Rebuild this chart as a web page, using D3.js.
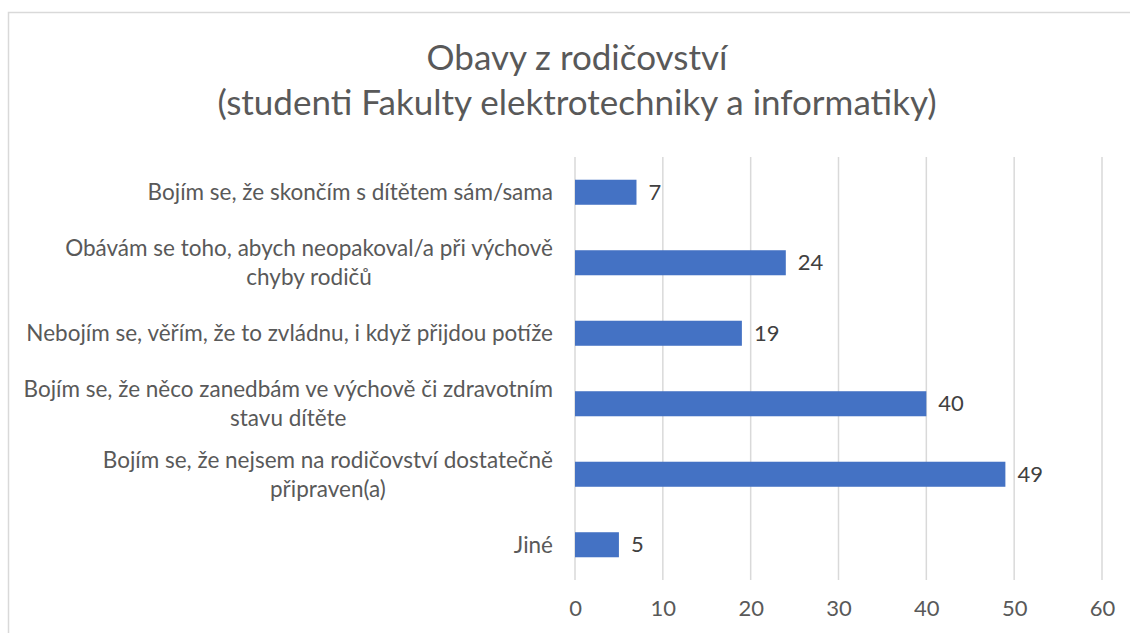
<!DOCTYPE html>
<html>

<head>
  <title>Obavy z rodičovství</title>
  <script src="https://cdn.jsdelivr.net/npm/d3@7"></script>
  <style>
    body {
      margin: 0;
      background-color: #ffffff;
      font-family: Lato, "Open Sans", sans-serif;
    }
  </style>
</head>

<body>
  <div id="chart"></div>
  <script>
    const titleLines = ["Obavy z rodičovství", "(studenti Fakulty elektrotechniky a informatiky)"];

    const categories = [
      "Bojím se, že skončím s dítětem sám/sama",
      "Obávám se toho, abych neopakoval/a při výchově\nchyby rodičů",
      "Nebojím se, věřím, že to zvládnu, i když přijdou potíže",
      "Bojím se, že něco zanedbám ve výchově či zdravotním\nstavu dítěte",
      "Bojím se, že nejsem na rodičovství dostatečně\npřipraven(a)",
      "Jiné"
    ];
    const values = [7, 24, 19, 40, 49, 5];
    const xTicks = [0, 10, 20, 30, 40, 50, 60];

    const width = 1130;
    const height = 633;
    const barColor = "#4472c4";
    const textColor = "#595959";
    const gridColor = "#d9d9d9";

    const svg = d3.select("#chart").append("svg")
      .attr("width", width)
      .attr("height", height);

    svg.append("rect")
      .attr("width", width)
      .attr("height", height)
      .attr("fill", "#fff");

    // chart frame (runs off the right and bottom edge)
    svg.append("rect")
      .attr("x", 8.5)
      .attr("y", 12.5)
      .attr("width", 1200)
      .attr("height", 800)
      .attr("fill", "none")
      .attr("stroke", gridColor)
      .attr("stroke-width", 1.5);

    const x = d3.scaleLinear()
      .domain([0, 60])
      .range([575, 1102]);

    const y = d3.scaleBand()
      .domain(categories)
      .range([157, 580])
      .paddingInner(0.645)
      .paddingOuter(0.3225);

    // title
    svg.append("g")
      .selectAll("text")
      .data(titleLines)
      .join("text")
      .attr("x", 577)
      .attr("y", (d, i) => 58 + i * 45)
      .attr("dy", "0.35em")
      .attr("text-anchor", "middle")
      .attr("fill", textColor)
      .style("font-size", "35px")
      .text(d => d);

    // gridlines
    svg.append("g")
      .selectAll("line")
      .data(xTicks)
      .join("line")
      .attr("x1", d => x(d))
      .attr("x2", d => x(d))
      .attr("y1", 157)
      .attr("y2", 580)
      .attr("stroke", gridColor)
      .attr("stroke-width", 1.5);

    // x axis labels
    const xAxis = svg.append("g")
      .attr("transform", "translate(0,580)")
      .call(d3.axisBottom(x).tickValues(xTicks).tickSize(0).tickPadding(20));
    xAxis.select(".domain").remove();
    xAxis.selectAll("text")
      .attr("fill", textColor)
      .style("font-family", "Lato, sans-serif")
      .style("font-size", "22px");

    // bars
    svg.append("g")
      .selectAll("rect")
      .data(values)
      .join("rect")
      .attr("x", x(0))
      .attr("y", (d, i) => y(categories[i]))
      .attr("width", d => x(d) - x(0))
      .attr("height", y.bandwidth())
      .attr("fill", barColor);

    // value labels
    svg.append("g")
      .selectAll("text")
      .data(values)
      .join("text")
      .attr("x", d => x(d) + 12)
      .attr("y", (d, i) => y(categories[i]) + y.bandwidth() / 2)
      .attr("dy", "0.35em")
      .attr("fill", "#404040")
      .style("font-size", "22px")
      .text(d => d);

    // category labels, wrapped lines centred within a right-aligned block
    const lineH = 29;
    const labels = svg.append("g")
      .selectAll("g")
      .data(categories)
      .join("g");

    labels.each(function (d) {
      const g = d3.select(this);
      const lines = d.split("\n");
      const cy = y(d) + y.bandwidth() / 2;
      const texts = g.selectAll("text")
        .data(lines)
        .join("text")
        .attr("y", (l, i) => cy + (i - (lines.length - 1) / 2) * lineH)
        .attr("dy", "0.35em")
        .attr("text-anchor", "middle")
        .attr("fill", textColor)
        .style("font-size", "22.5px")
        .text(l => l);
      let maxW = 0;
      texts.each(function () { maxW = Math.max(maxW, this.getComputedTextLength()); });
      texts.attr("x", 553 - maxW / 2);
    });
  </script>
</body>

</html>
